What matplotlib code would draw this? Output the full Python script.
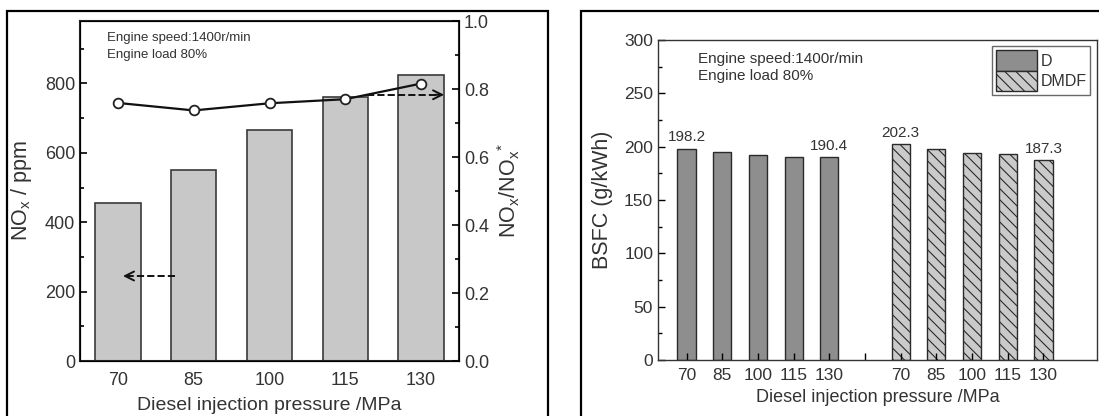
import matplotlib
matplotlib.use('Agg')
from matplotlib import pyplot as plt
from matplotlib.patches import Rectangle, Patch

# data
pressures = ['70', '85', '100', '115', '130']
nox_ppm = [455, 550, 665, 760, 825]
nox_ratio = [0.759, 0.737, 0.758, 0.770, 0.816]
bsfc_d = [198.2, 194.7, 191.9, 190.6, 190.4]
bsfc_dmdf = [202.3, 197.8, 193.8, 192.8, 187.3]

plt.rcParams['font.family'] = ['Liberation Sans', 'DejaVu Sans']
plt.rcParams['mathtext.fontset'] = 'custom'
plt.rcParams['mathtext.rm'] = 'Liberation Sans'
plt.rcParams['hatch.linewidth'] = 0.8
plt.rcParams['hatch.color'] = '#3a3a3a'

txt = '#333333'
fig = plt.figure(figsize=(10.99, 4.16), dpi=100)

# outer frames around both panels
for x0, x1 in [(7, 548), (581, 1110)]:
    fig.patches.append(Rectangle((x0 / 1099, -0.05), (x1 - x0) / 1099, 1.05 - 11 / 416,
                                 transform=fig.transFigure, fill=False, lw=1.6,
                                 edgecolor='black'))

# left panel
ax1 = fig.add_axes([80 / 1099, 1 - 361 / 416, 379 / 1099, 340 / 416])
x = range(len(pressures))
ax1.bar(x, nox_ppm, width=0.6, color='#c8c8c8', edgecolor='#3a3a3a', lw=1.2, zorder=2)
ax1.set_xlim(-0.5, 4.5)
ax1.set_ylim(0, 980)
ax1.set_yticks([0, 200, 400, 600, 800])
ax1.set_yticks(range(100, 980, 200), minor=True)
ax1.set_xticks(list(x))
ax1.set_xticklabels(pressures, fontsize=13, color=txt)
ax1.tick_params(axis='y', labelsize=13, labelcolor=txt, direction='in', length=5, width=1.2)
ax1.tick_params(axis='y', which='minor', direction='in', length=3, width=1.2)
ax1.tick_params(axis='x', direction='in', length=5, width=1.2, pad=8)
ax1.set_xlabel('Diesel injection pressure /MPa', fontsize=14, color=txt, labelpad=6)
ax1.set_ylabel(r'NO$_\mathregular{x}$ / ppm', fontsize=15.5, color=txt, labelpad=8)
for s in ax1.spines.values():
    s.set_linewidth(1.5)
    s.set_color('#222222')

ax2 = ax1.twinx()
ax2.plot(list(x), nox_ratio, color='#111111', lw=1.6, marker='o', ms=7,
         mfc='white', mec='#222222', mew=1.3, zorder=3)
ax2.set_ylim(0, 1.0)
ax2.set_yticks([0.0, 0.2, 0.4, 0.6, 0.8, 1.0])
ax2.set_yticks([0.1, 0.3, 0.5, 0.7, 0.9], minor=True)
ax2.set_yticklabels(['0.0', '0.2', '0.4', '0.6', '0.8', '1.0'])
ax2.tick_params(axis='y', labelsize=13, labelcolor=txt, direction='in', length=5, width=1.2)
ax2.tick_params(axis='y', which='minor', direction='in', length=3, width=1.2)
ax2.set_ylabel(r'NO$_\mathregular{x}$/NO$_\mathregular{x}$$^\mathregular{*}$',
               fontsize=15.5, color=txt, labelpad=5)
ax2.set_xlim(-0.5, 4.5)

# dashed arrows pointing to the axes
ax1.plot([0.75, 0.08], [245, 245], ls='--', color='#111111', lw=1.4)
ax1.annotate('', xy=(0.03, 245), xytext=(0.2, 245),
             arrowprops=dict(arrowstyle='->', color='#111111', lw=1.4, mutation_scale=16))
ax2.plot([3.29, 4.28], [0.783, 0.783], ls='--', color='#111111', lw=1.4)
ax2.annotate('', xy=(4.34, 0.783), xytext=(4.15, 0.783),
             arrowprops=dict(arrowstyle='->', color='#111111', lw=1.4, mutation_scale=16))

ax1.text(0.071, 0.925, 'Engine speed:1400r/min\nEngine load 80%', transform=ax1.transAxes,
         fontsize=9.5, color=txt, va='center', linespacing=1.6)

# right panel
ax3 = fig.add_axes([658 / 1099, 1 - 360 / 416, 439 / 1099, 320 / 416])
xd = list(range(5))
xm = [i + 6 for i in range(5)]
ax3.bar(xd, bsfc_d, width=0.51, color='#8e8e8e', edgecolor='#2a2a2a', lw=1.0, label='D')
ax3.bar(xm, bsfc_dmdf, width=0.51, color='#cacaca', edgecolor='#2a2a2a', lw=1.0,
        hatch='\\\\\\', label='DMDF')
for xi, v in [(xd[0], bsfc_d[0]), (xd[-1], bsfc_d[-1]), (xm[0], bsfc_dmdf[0]), (xm[-1], bsfc_dmdf[-1])]:
    ax3.annotate(f'{v:.1f}', (xi, v), xytext=(0, 3), textcoords='offset points',
                 ha='center', va='bottom', fontsize=11, color=txt)
ax3.set_xlim(-0.8, 11.5)
ax3.set_ylim(0, 300)
ax3.set_yticks(range(0, 301, 50))
ax3.set_yticks(range(25, 300, 50), minor=True)
ax3.set_xticks(xd + [5] + xm)
ax3.set_xticklabels(pressures + [''] + pressures)
ax3.tick_params(axis='both', labelsize=12.5, labelcolor=txt, direction='in', length=5, width=1.0)
ax3.tick_params(axis='y', which='minor', direction='in', length=3, width=1.0)
ax3.tick_params(axis='x', pad=6)
ax3.set_xlabel('Diesel injection pressure /MPa', fontsize=13, color=txt, labelpad=4)
ax3.set_ylabel('BSFC (g/kWh)', fontsize=15.5, color=txt, labelpad=8)
for s in ax3.spines.values():
    s.set_linewidth(1.0)
    s.set_color('#333333')
ax3.text(0.09, 0.915, 'Engine speed:1400r/min\nEngine load 80%', transform=ax3.transAxes,
         fontsize=11, color=txt, va='center', linespacing=1.3)
handles = [Patch(facecolor='#8e8e8e', edgecolor='#2a2a2a', label='D'),
           Patch(facecolor='#cacaca', edgecolor='#2a2a2a', hatch='\\\\\\', label='DMDF')]
leg = ax3.legend(handles=handles, loc='upper right', bbox_to_anchor=(0.985, 0.98),
                 fontsize=11.5, frameon=True, fancybox=False, edgecolor='#444444',
                 handlelength=2.6, handleheight=1.6, handletextpad=0.2,
                 labelspacing=0.0, borderpad=0.25, borderaxespad=0)
leg.get_frame().set_linewidth(1.0)
for t in leg.get_texts():
    t.set_color(txt)

plt.savefig('out.png', dpi=100)
